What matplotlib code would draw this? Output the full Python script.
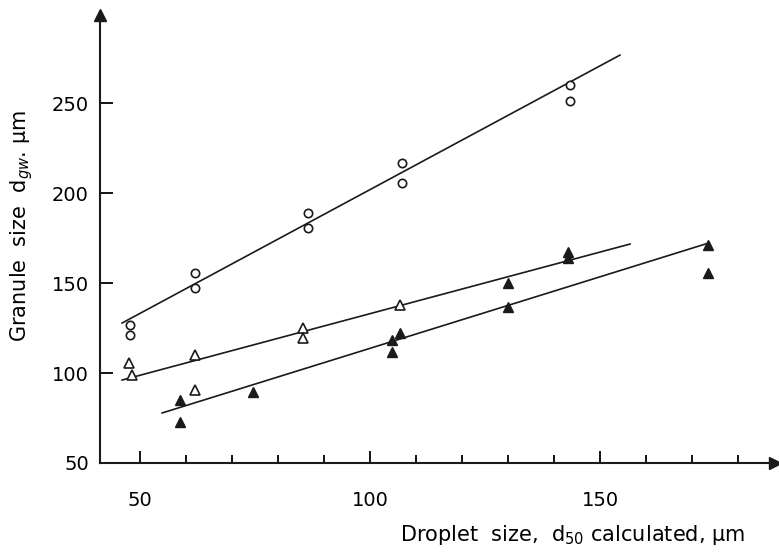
import matplotlib.pyplot as plt

# open circles
circ_x = [47.8, 47.8, 62, 62, 86.5, 86.5, 107, 107, 143.5, 143.5]
circ_y = [126.7, 121.1, 155.5, 147.2, 188.9, 180.6, 216.7, 205.6, 260, 251]
circ_line_x = [46.1, 154.3]
circ_line_y = [127.8, 276.7]

# open triangles
otri_x = [47.5, 48.2, 62, 62, 85.4, 85.4, 106.5]
otri_y = [105.6, 98.9, 110, 90.6, 125, 119.4, 137.8]
otri_line_x = [46.1, 156.5]
otri_line_y = [96.1, 171.7]

# filled triangles
ftri_x = [58.7, 58.7, 74.6, 104.8, 104.8, 106.5, 130, 130, 143, 143, 173.5, 173.5]
ftri_y = [85, 72.8, 89.4, 118.3, 111.7, 122.2, 150, 136.7, 167.2, 163.9, 171, 155.6]
ftri_line_x = [54.8, 173.5]
ftri_line_y = [77.8, 172.2]

fig = plt.figure(figsize=(7.79, 5.53), dpi=100)
ax = fig.add_axes([100/779, 90/553, 675/779, 448/553])

ax.plot(circ_line_x, circ_line_y, color='#1a1a1a', lw=1.2)
ax.plot(otri_line_x, otri_line_y, color='#1a1a1a', lw=1.2)
ax.plot(ftri_line_x, ftri_line_y, color='#1a1a1a', lw=1.2)

ax.plot(circ_x, circ_y, 'o', mfc='white', mec='#1a1a1a', mew=1.2, ms=6, ls='none')
ax.plot(otri_x, otri_y, '^', mfc='white', mec='#1a1a1a', mew=1.2, ms=7, ls='none')
ax.plot(ftri_x, ftri_y, '^', color='#1a1a1a', ms=7, ls='none')

ax.set_xlim(41.3, 188)
ax.set_ylim(50, 299)
ax.spines['top'].set_visible(False)
ax.spines['right'].set_visible(False)
for s in ['left', 'bottom']:
    ax.spines[s].set_linewidth(1.5)
    ax.spines[s].set_color('#1a1a1a')

# arrow heads on the axes
ax.plot(1, 0, '>', color='#1a1a1a', ms=8, transform=ax.transAxes, clip_on=False)
ax.plot(0, 1, '^', color='#1a1a1a', ms=8, transform=ax.transAxes, clip_on=False)

ax.set_xticks([50, 100, 150])
ax.set_xticks([60, 70, 80, 90, 110, 120, 130, 140, 160, 170, 180], minor=True)
ax.set_yticks([50, 100, 150, 200, 250])
ax.tick_params(axis='x', which='major', direction='in', length=9, width=1.3, pad=20, labelsize=14)
ax.tick_params(axis='x', which='minor', direction='in', length=6, width=1.3)
ax.tick_params(axis='y', direction='in', length=9, width=1.3, pad=8, labelsize=14)

ax.set_xlabel('Droplet  size,  d$_{50}$ calculated, µm', fontsize=15)
ax.xaxis.set_label_coords(0.70, -0.135)
ax.set_ylabel('Granule  size  d$_{gw}$. µm', fontsize=15)
ax.yaxis.set_label_coords(-0.097, 0.53)

fig.savefig('out.png', dpi=100)
